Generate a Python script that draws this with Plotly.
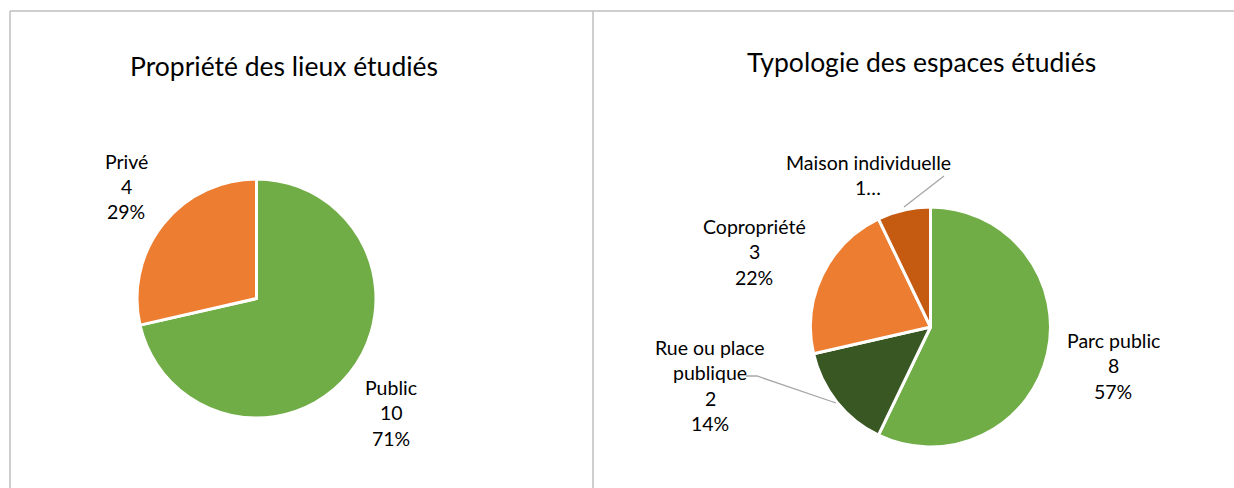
import plotly.graph_objects as go

# ---------------- data ----------------
prop_labels = ["Public", "Privé"]
prop_values = [10, 4]
prop_pct = ["71%", "29%"]
prop_colors = ["#70AD47", "#ED7D31"]

typo_labels = ["Parc public", "Rue ou place publique", "Copropriété", "Maison individuelle"]
typo_values = [8, 2, 3, 1]
typo_pct = ["57%", "14%", "22%", "7%"]
typo_colors = ["#70AD47", "#385723", "#ED7D31", "#C55A11"]

title_left = "Propriété des lieux étudiés"
title_right = "Typologie des espaces étudiés"

W, H = 1234, 488
FONT = "Lato, 'Open Sans', sans-serif"

def px_x(x):
    return x / W

def px_y(y):
    return 1 - y / H

fig = go.Figure()

# left pie: center (256.5, 298.5), r 119.5
fig.add_trace(go.Pie(
    labels=prop_labels, values=prop_values, sort=False, direction="clockwise",
    rotation=0, textinfo="none", hoverinfo="label+value+percent",
    marker=dict(colors=prop_colors, line=dict(color="white", width=3)),
    domain=dict(x=[px_x(137), px_x(376)], y=[px_y(418), px_y(179)]),
    showlegend=False,
))
# right pie: center (930.5, 327), r 120
fig.add_trace(go.Pie(
    labels=typo_labels, values=typo_values, sort=False, direction="clockwise",
    rotation=0, textinfo="none", hoverinfo="label+value+percent",
    marker=dict(colors=typo_colors, line=dict(color="white", width=3)),
    domain=dict(x=[px_x(810.5), px_x(1050.5)], y=[px_y(447), px_y(207)]),
    showlegend=False,
))

annotations = []
# titles
annotations.append(dict(text=title_left, x=px_x(284), y=px_y(66), xref="paper", yref="paper",
                        showarrow=False, xanchor="center", yanchor="middle",
                        font=dict(family=FONT, size=26.5, color="#000000")))
annotations.append(dict(text=title_right, x=px_x(921), y=px_y(62), xref="paper", yref="paper",
                        showarrow=False, xanchor="center", yanchor="middle",
                        font=dict(family=FONT, size=26.5, color="#000000")))

# data labels (label lines, value, percent)
def label_lines(name, value, pct):
    if name == "Rue ou place publique":
        return ["Rue ou place", "publique", str(value), pct]
    if name == "Maison individuelle":
        return [name, f"{value}…"]
    return [name, str(value), pct]

prop_label_pos = [(391, 387), (126, 161)]
typo_label_pos = [(1113, 340), (710, 347), (754, 226), (868, 162)]
LINE = 25.5

for names, vals, pcts, poss in [(prop_labels, prop_values, prop_pct, prop_label_pos),
                                (typo_labels, typo_values, typo_pct, typo_label_pos)]:
    for n, v, p, (cx, cy) in zip(names, vals, pcts, poss):
        for i, line in enumerate(label_lines(n, v, p)):
            annotations.append(dict(text=line, x=px_x(cx), y=px_y(cy + i * LINE),
                                    xref="paper", yref="paper", showarrow=False,
                                    xanchor="center", yanchor="middle",
                                    font=dict(family=FONT, size=19.5, color="#000000")))

shapes = []
# chart frames
frame = dict(color="#BFBFBF", width=1.5)
shapes.append(dict(type="line", xref="paper", yref="paper", x0=px_x(10), x1=1, y0=px_y(11), y1=px_y(11), line=frame))
shapes.append(dict(type="line", xref="paper", yref="paper", x0=px_x(10), x1=px_x(10), y0=px_y(11), y1=0, line=frame))
shapes.append(dict(type="line", xref="paper", yref="paper", x0=px_x(593), x1=px_x(593), y0=px_y(11), y1=0, line=frame))

# leader lines
def path(points):
    return "M " + " L ".join(f"{px_x(x)},{px_y(y)}" for x, y in points)

leader = dict(color="#A6A6A6", width=1.3)
shapes.append(dict(type="path", xref="paper", yref="paper", path=path([(944, 176), (904, 207)]), line=leader))
shapes.append(dict(type="path", xref="paper", yref="paper", path=path([(746, 376), (757, 376), (836, 403)]), line=leader))

fig.update_layout(
    width=W, height=H,
    margin=dict(l=0, r=0, t=0, b=0),
    paper_bgcolor="white", plot_bgcolor="white",
    annotations=annotations, shapes=shapes,
    font=dict(family=FONT),
)

fig.write_html("out.html", config={"displayModeBar": False},
               post_script="document.body.style.margin='0';document.body.style.overflow='hidden';")
